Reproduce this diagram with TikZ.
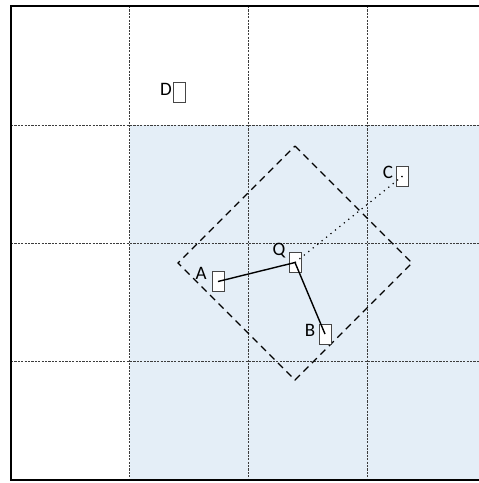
\documentclass[tikz,border=0pt]{standalone}
\usepackage{fontspec}
\setmainfont{Carlito}
\definecolor{areablue}{RGB}{228,238,247}
\definecolor{gridc}{RGB}{60,60,60}
\definecolor{boxc}{RGB}{70,70,70}
\tikzset{
  gridline/.style={gridc, line width=0.9pt, dash pattern=on 2.2pt off 1.2pt},
  pt/.style={draw=boxc, fill=white, line width=0.9pt, minimum width=12pt, minimum height=20pt, inner sep=0pt},
  lbl/.style={inner sep=0pt, font=\fontsize{19}{21}\selectfont},
  link/.style={black, line width=1.4pt},
}
\begin{document}
\begin{tikzpicture}[x=1pt,y=-1pt]
\useasboundingbox (0,0) rectangle (479,483);
\fill[white] (0,0) rectangle (479,483);
\fill[areablue] (129.5,125) rectangle (479,480);
% grid
\foreach \x in {129.5,248,367} \draw[gridline] (\x,6) -- (\x,480);
\foreach \y in {125,243,361} \draw[gridline] (11,\y) -- (479,\y);
% frame (right side lies outside the picture)
\draw[black, line width=1.8pt] (479,6) -- (11,6) -- (11,480) -- (479,480);
% diamond
\coordinate (dT) at (295,146);
\coordinate (dR) at (412,263);
\coordinate (dB) at (295,380);
\coordinate (dL) at (178,263);
\draw[black, line width=1.3pt, dash pattern=on 7pt off 5pt] (dT) -- (dR) -- (dB) -- (dL) -- cycle;
% point boxes
\node[pt] (rD) at (179,92.5) {};
\node[pt] (rC) at (402,176.5) {};
\node[pt] (rQ) at (295,262.5) {};
\node[pt] (rA) at (218,281.5) {};
\node[pt] (rB) at (325,334) {};
% labels
\node[lbl, anchor=east] (lD) at (172,89) {D};
\node[lbl] (lC) at (388,172) {C};
\node[lbl] (lQ) at (279,251) {Q};
\node[lbl] (lA) at (201,273) {A};
\node[lbl] (lB) at (310,330) {B};
% connectors
\draw[link] (rA.center) -- (rQ.center);
\draw[link] (rQ.center) -- (rB.center);
\draw[black, line width=1.2pt, dash pattern=on 1.2pt off 4.5pt] (rQ.center) -- (rC.center);
\fill[black] (rC.center) circle (0.9pt);
\end{tikzpicture}
\end{document}
